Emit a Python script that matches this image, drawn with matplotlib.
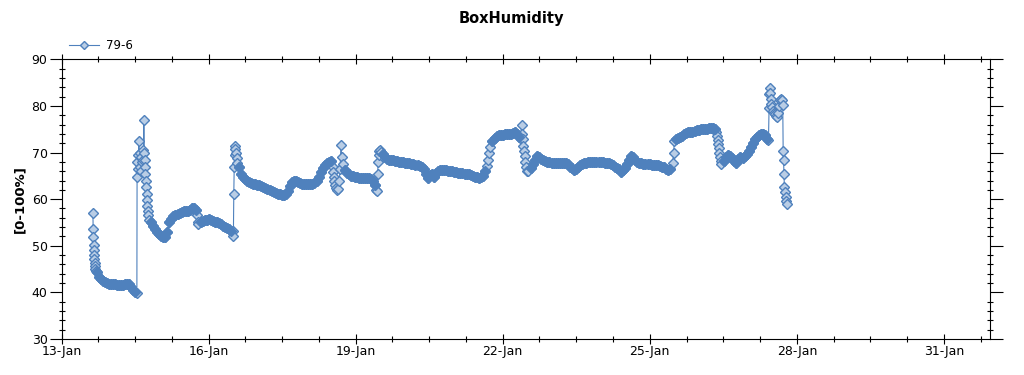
import numpy as np
import matplotlib.pyplot as plt
from matplotlib.ticker import FixedLocator, MultipleLocator

# x in hours after 13-Jan 00:00, y in % humidity

# irregular readings (steep jumps and spikes)
burst_hours = [15.37, 15.48, 15.58, 15.68, 15.78, 15.88, 15.99, 16.19, 16.39, 16.6, 16.8,
               36.9, 37.0, 37.2, 37.4, 37.6, 37.9, 38.2, 38.5, 38.8, 39.1, 39.5, 39.8, 40.1,
               40.3, 40.5, 40.7, 40.9, 41.1, 41.3, 41.5, 41.7, 41.9, 42.1, 42.3, 42.5, 42.9,
               66.4, 66.7, 67.0,
               84.05, 84.15, 84.35, 84.55, 84.75, 84.97, 85.17, 85.37, 85.68, 85.99,
               132.7, 133.0, 133.3, 133.6, 134.0, 134.4, 135.0, 135.5, 136.0, 136.4, 136.8,
               137.2, 137.6,
               154.2, 154.5, 154.8, 155.0, 155.3, 155.6, 155.9, 156.3,
               208.3, 208.8, 209.3, 209.9,
               224.8, 225.2, 225.5, 225.8, 226.1, 226.4, 226.7, 227.0, 227.3, 227.7, 228.2,
               299.3, 299.7, 300.1,
               320.6, 320.9, 321.2, 321.5, 321.8, 322.1, 322.4, 322.7, 323.1,
               346.1, 346.4, 346.6, 346.8, 347.0, 347.2, 347.4, 347.7, 348.1, 348.6, 349.1,
               349.7, 350.2, 350.7, 351.2, 351.7, 352.2, 352.7, 353.1, 353.3, 353.5, 353.7,
               353.9, 354.2, 354.5, 354.9, 355.2]
burst_values = [57.0, 53.5, 51.8, 50.2, 49.0, 48.0, 47.2, 46.4, 45.7, 45.1, 44.6,
                39.8, 64.8, 68.0, 66.5, 69.5, 72.4, 67.0, 70.0, 66.0, 69.0, 68.0, 70.5, 68.5,
                77.0, 70.0, 68.5, 67.0, 65.5, 64.0, 62.5, 61.0, 59.8, 58.5, 57.5, 56.5, 55.6,
                56.5, 55.2, 54.7,
                53.2, 52.2, 61.2, 66.8, 69.5, 71.5, 70.8, 69.8, 68.8, 67.8,
                67.0, 65.8, 64.8, 63.8, 63.0, 62.4, 62.0, 62.2, 64.0, 66.5, 71.7,
                69.0, 67.5,
                62.0, 61.8, 65.5, 68.0, 69.5, 70.4, 70.6, 70.2,
                67.2, 68.5, 70.0, 71.2,
                72.8, 75.8, 74.0, 72.8, 71.5, 70.3, 69.2, 68.0, 66.8, 66.0, 66.0,
                67.8, 70.0, 72.5,
                74.5, 73.6, 72.7, 71.8, 70.9, 70.0, 69.0, 68.2, 67.6,
                72.6, 79.5, 82.5, 83.8, 82.8, 81.5, 80.5, 79.8, 79.0, 78.5, 78.2,
                77.8, 77.6, 78.5, 80.0, 81.3, 81.5, 81.2, 80.2, 70.4, 68.3, 65.5,
                62.5, 61.5, 60.5, 59.5, 59.0]

# hourly readings, each run starts at the given hour
run_a_start = 17.2
run_a = [44.3, 43.4, 42.9, 42.5, 42.3, 42.1, 41.9, 41.8, 41.7, 41.7, 41.6, 41.6, 41.6,
         41.6, 41.7, 41.8, 41.7, 41.2, 40.6, 40.1]
run_b_start = 43.8
run_b = [55.0, 54.3, 53.6, 53.0, 52.5, 52.1, 51.8, 51.9, 53.0, 55.0, 55.8, 56.3, 56.6,
         56.9, 57.0, 57.2, 57.4, 57.5, 57.5, 57.7, 58.0, 58.1, 57.6]
run_c_start = 68.2
run_c = [55.0, 55.3, 55.5, 55.6, 55.8, 55.6, 55.4, 55.2, 55.0, 54.8, 54.6, 54.3, 54.1,
         53.8, 53.6, 53.2]
run_d_start = 86.85
run_d = [66.8, 65.5, 64.8, 64.3, 63.9, 63.6, 63.4, 63.3, 63.2, 63.1, 63.0, 62.8, 62.6,
         62.3, 62.1, 62.0, 61.8, 61.6, 61.4, 61.2, 61.0, 60.9, 60.9, 61.2, 61.8, 62.8,
         63.7, 64.0, 63.8, 63.6, 63.4, 63.3, 63.2, 63.2, 63.2, 63.2, 63.3, 63.4, 63.8,
         64.7, 65.8, 66.7, 67.3, 67.7, 68.0, 68.2]
run_e_start = 138.6
run_e = [66.3, 65.7, 65.3, 65.0, 64.9, 64.8, 64.7, 64.6, 64.6, 64.6, 64.6, 64.5, 64.5,
         64.3, 64.0, 63.0]
run_f_start = 157.3
run_f = [69.6, 69.0, 68.7, 68.5, 68.4, 68.3, 68.2, 68.1, 68.0, 68.0, 67.9, 67.8, 67.8,
         67.7, 67.6, 67.5, 67.4, 67.3, 67.1, 66.9, 66.4, 65.4, 64.6, 65.2, 65.3, 64.7,
         65.6, 66.1, 66.3, 66.3, 66.2, 66.2, 66.1, 66.0, 66.0, 65.9, 65.8, 65.7, 65.7,
         65.6, 65.5, 65.4, 65.3, 65.1, 65.0, 64.8, 64.7, 64.6, 64.7, 65.0, 66.0]
run_g_start = 211.0
run_g = [72.5, 73.2, 73.6, 73.7, 73.8, 73.8, 73.9, 73.9, 74.0, 74.0, 74.2, 74.3, 74.0,
         73.3]
run_h_start = 229.9
run_h = [66.6, 67.5, 68.5, 69.2, 69.0, 68.6, 68.3, 68.1, 68.0, 67.9, 67.8, 67.8, 67.8,
         67.8, 67.8, 67.8, 67.7, 67.7, 67.5, 67.0, 66.6, 66.3, 66.4, 66.8, 67.3, 67.6,
         67.7, 67.8, 67.9, 67.9, 67.9, 67.9, 67.9, 67.9, 67.9, 67.9, 67.8, 67.8, 67.7,
         67.6, 67.3, 67.0, 66.7, 66.4, 65.8, 66.2, 66.7, 67.6, 68.5, 69.2, 69.0, 68.4,
         68.0, 67.8, 67.7, 67.6, 67.5, 67.5, 67.5, 67.4, 67.4, 67.3, 67.3, 67.2, 67.0,
         66.8, 66.5, 66.2, 66.5]
run_i_start = 300.9
run_i = [73.0, 73.1, 73.3, 73.6, 73.9, 74.1, 74.3, 74.4, 74.5, 74.7, 74.8, 74.9, 75.0,
         75.0, 75.1, 75.1, 75.2, 75.2, 75.2, 75.0]
run_j_start = 324.4
run_j = [68.2, 69.0, 69.4, 69.2, 68.8, 68.2, 67.8, 68.6, 69.0, 68.9, 69.2, 69.7, 70.4,
         71.2, 72.1, 72.9, 73.4, 73.7, 73.9, 74.0, 73.8, 73.0]

day_labels = ["13-Jan", "16-Jan", "19-Jan", "22-Jan", "25-Jan", "28-Jan", "31-Jan"]
series_name = "79-6"

# hourly runs -> (hours, values)
run_hours = []
run_values = []
for start, run in [(run_a_start, run_a), (run_b_start, run_b), (run_c_start, run_c),
                   (run_d_start, run_d), (run_e_start, run_e), (run_f_start, run_f),
                   (run_g_start, run_g), (run_h_start, run_h), (run_i_start, run_i),
                   (run_j_start, run_j)]:
    run_hours += [start + i for i in range(len(run))]
    run_values += run

# whole series in time order
hours = np.array(burst_hours + run_hours)
values = np.array(burst_values + run_values)
order = np.argsort(hours)
days = hours[order] / 24.0
values = values[order]

blue = '#4f81bd'
fill = '#b9cde5'

fig = plt.figure(figsize=(10.24, 3.75), dpi=100)
ax = fig.add_axes([61.5/1024, 1 - 339/375, 928.5/1024, 279.7/375])

ax.plot(days, values, color=blue, lw=0.8, marker='D', ms=4.6, mfc=fill, mec=blue,
        mew=1.0, label=series_name)
# the logger samples every few minutes, so the slow parts read as a solid band
ax.plot(np.array(run_hours) / 24.0, run_values, ls='none', marker='D', ms=4.8,
        mfc=blue, mec=blue, mew=1.0)

ax.set_xlim(0, 18.94)
ax.set_ylim(30, 90)
ax.set_xticks(np.arange(0, 19, 3))
ax.set_xticklabels(day_labels)
minor_x = [d for d in np.arange(0, 19, 0.75) if d % 3 != 0]
ax.xaxis.set_minor_locator(FixedLocator(minor_x))
ax.yaxis.set_major_locator(MultipleLocator(10))
ax.yaxis.set_minor_locator(MultipleLocator(2))

ax.tick_params(axis='x', which='major', direction='inout', length=7, width=0.8,
               labelsize=9, pad=1, top=True)
ax.tick_params(axis='x', which='minor', direction='inout', length=4, width=0.8, top=True)
ax.tick_params(axis='y', which='major', direction='out', length=9, width=0.8,
               labelsize=9, pad=1, right=True)
ax.tick_params(axis='y', which='minor', direction='inout', length=4, width=0.8, right=True)

for side in ax.spines.values():
    side.set_linewidth(0.8)

ax.set_ylabel('[0-100%]', fontsize=9.5, fontweight='bold', labelpad=4)
fig.text(0.499, 0.951, 'BoxHumidity', ha='center', va='center',
         fontsize=10.5, fontweight='bold')

ax.legend(loc='lower left', bbox_to_anchor=(0.0, 1.0), frameon=False, fontsize=8.5,
          handlelength=2.6, handletextpad=0.6, borderaxespad=0.5, borderpad=0.1,
          markerscale=0.9)

fig.savefig('out.png', dpi=100)
